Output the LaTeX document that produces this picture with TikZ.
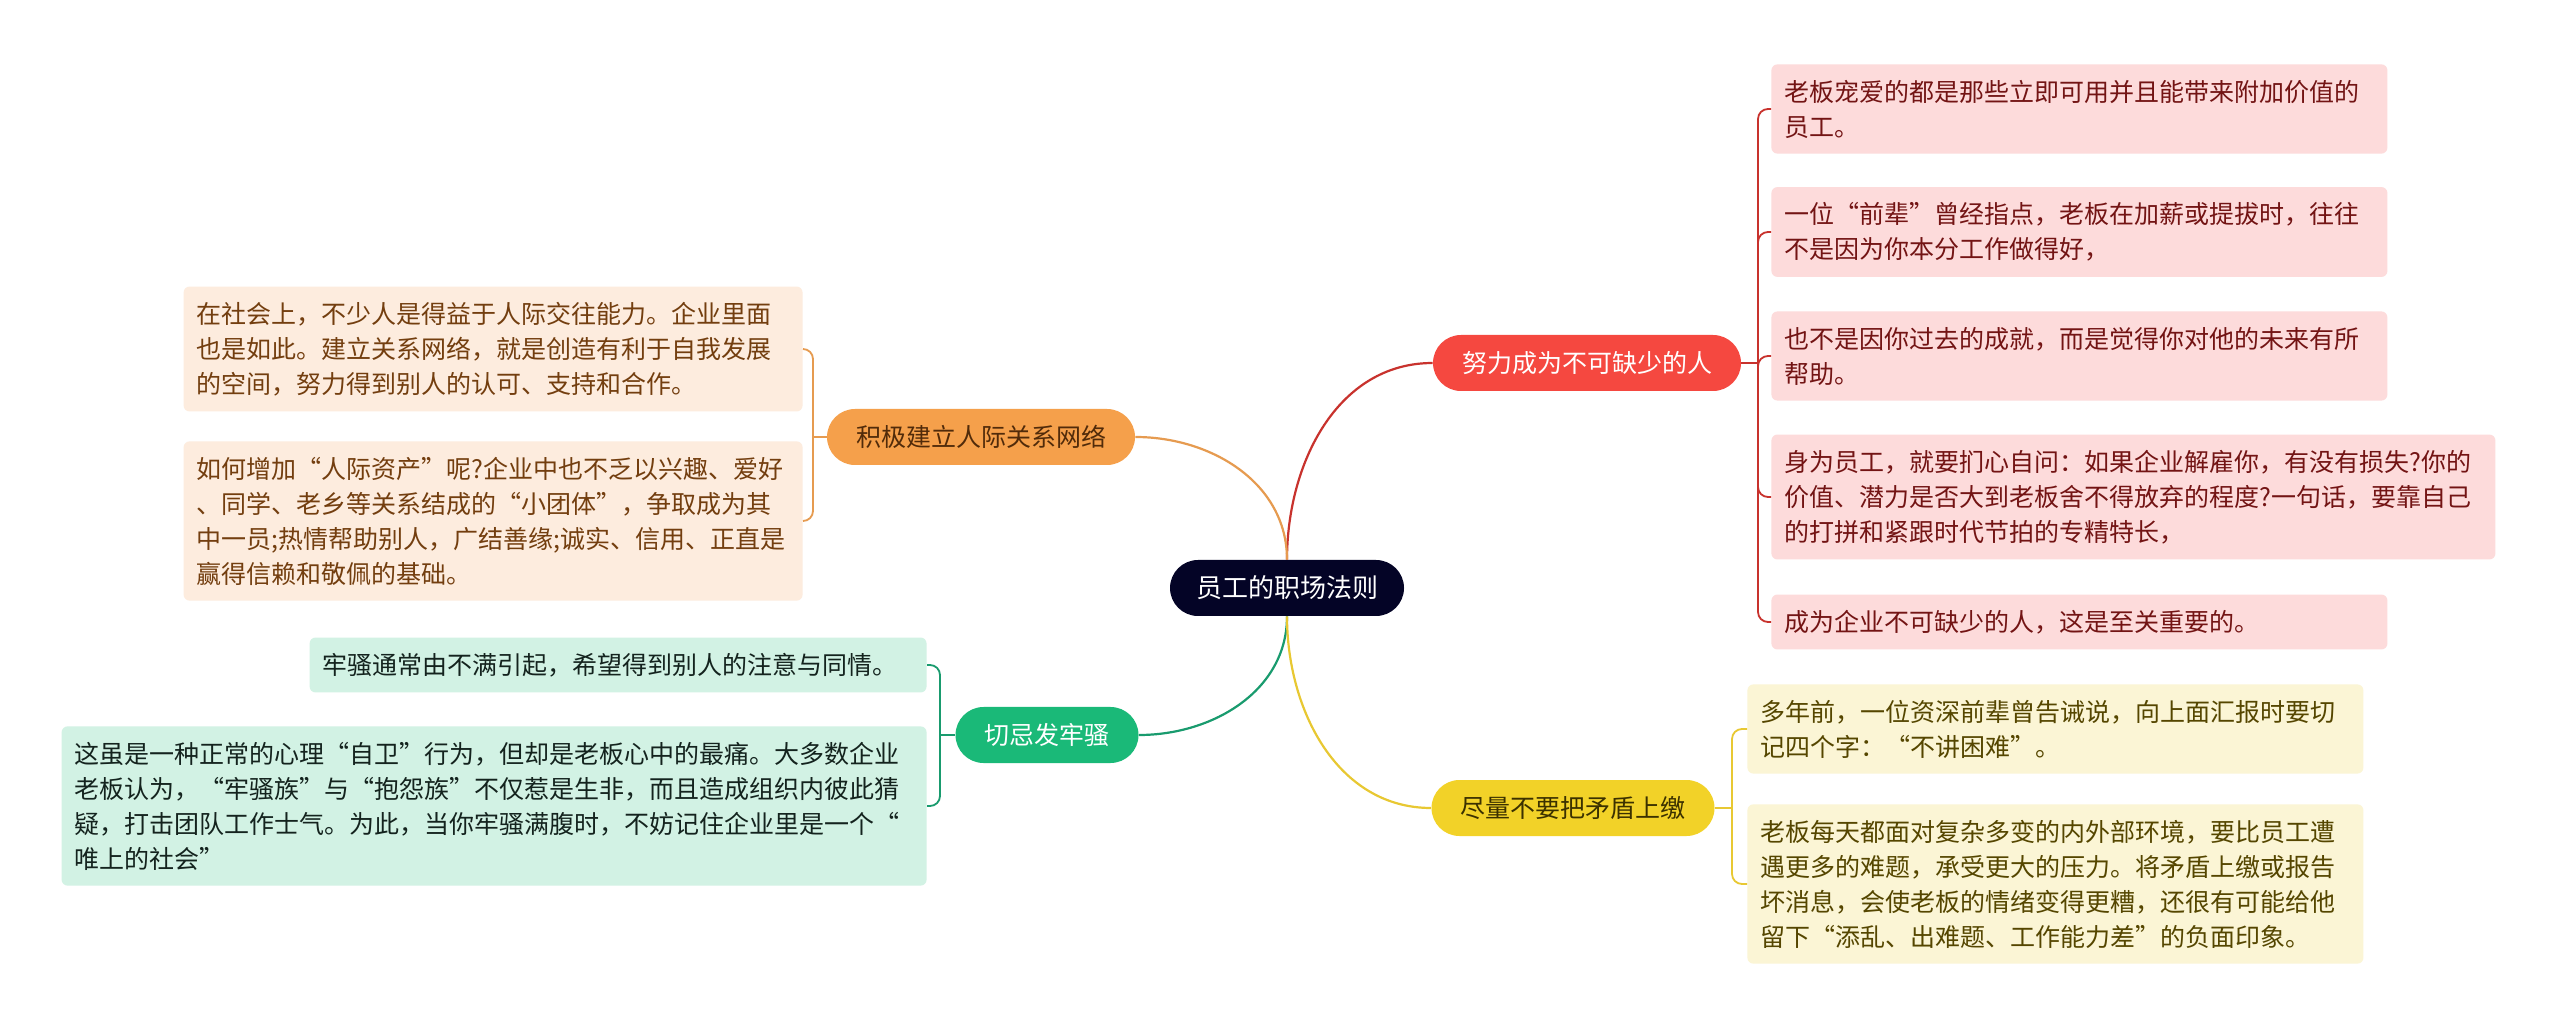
\documentclass[tikz,border=0pt]{standalone}
\usepackage{fontspec}
\setmainfont{Noto Sans CJK SC}
\definecolor{rootNavy}{RGB}{4,4,38}
\definecolor{workRed}{RGB}{245,72,64}
\definecolor{workRedLine}{RGB}{200,50,45}
\definecolor{workRedLeaf}{RGB}{253,219,219}
\definecolor{workRedText}{RGB}{115,20,20}
\definecolor{workOrange}{RGB}{245,160,75}
\definecolor{workOrangeLine}{RGB}{230,155,80}
\definecolor{workOrangeLeaf}{RGB}{253,236,222}
\definecolor{workOrangeText}{RGB}{115,62,15}
\definecolor{workGreen}{RGB}{26,185,120}
\definecolor{workGreenLine}{RGB}{25,155,110}
\definecolor{workGreenLeaf}{RGB}{210,242,228}
\definecolor{workGreenText}{RGB}{20,35,30}
\definecolor{workYellow}{RGB}{242,210,40}
\definecolor{workYellowLine}{RGB}{232,200,50}
\definecolor{workYellowLeaf}{RGB}{251,245,213}
\definecolor{workYellowText}{RGB}{85,70,0}
\usetikzlibrary{arrows.meta}

\tikzset{
  rootbox/.style={fill=rootNavy, text=white, rounded corners=14pt, minimum height=28pt, inner xsep=13pt, font=\fontsize{13pt}{15pt}\selectfont},
  branchbox/.style={rounded corners=14pt, minimum height=28pt, inner xsep=14.5pt, font=\fontsize{12.5pt}{15pt}\selectfont},
  leafbox/.style={rounded corners=3pt, align=left, inner xsep=6.5pt, inner ysep=7.75pt, font=\fontsize{12.5pt}{17.5pt}\selectfont},
  link/.style={line width=1.1pt},
  bracket/.style={line width=0.9pt, rounded corners=5pt}
}

\begin{document}
\begin{tikzpicture}[x=0.5pt, y=-0.5pt]
    \fill[white] (0,0) rectangle (2560,1031);

    % Root and branches
    \node[rootbox] (root) at (1287,588) {员工的职场法则};
    \node[branchbox, fill=workRed, text=white] (red) at (1587,363) {努力成为不可缺少的人};
    \node[branchbox, fill=workOrange, text=workOrangeText!70!black] (orange) at (981,437) {积极建立人际关系网络};
    \node[branchbox, fill=workGreen, text=white] (green) at (1047,735) {切忌发牢骚};
    \node[branchbox, fill=workYellow, text=workYellowText!70!black] (yellow) at (1573,808) {尽量不要把矛盾上缴};

    % Red leaves
    \node[leafbox, fill=workRedLeaf, text=workRedText, text width=295pt, anchor=west] (r1) at (1771,109)
      {老板宠爱的都是那些立即可用并且能带来附加价值的\\员工。};
    \node[leafbox, fill=workRedLeaf, text=workRedText, text width=295pt, anchor=west] (r2) at (1771,232)
      {一位“前辈”曾经指点，老板在加薪或提拔时，往往\\不是因为你本分工作做得好，};
    \node[leafbox, fill=workRedLeaf, text=workRedText, text width=295pt, anchor=west] (r3) at (1771,356)
      {也不是因你过去的成就，而是觉得你对他的未来有所\\帮助。};
    \node[leafbox, fill=workRedLeaf, text=workRedText, text width=349pt, anchor=west] (r4) at (1771,497)
      {身为员工，就要扪心自问：如果企业解雇你，有没有损失?你的\\价值、潜力是否大到老板舍不得放弃的程度?一句话，要靠自己\\的打拼和紧跟时代节拍的专精特长，};
    \node[leafbox, fill=workRedLeaf, text=workRedText, text width=295pt, anchor=west] (r5) at (1771,622)
      {成为企业不可缺少的人，这是至关重要的。};

    % Orange leaves
    \node[leafbox, fill=workOrangeLeaf, text=workOrangeText, text width=296.5pt, anchor=east] (o1) at (803,349)
      {在社会上，不少人是得益于人际交往能力。企业里面\\也是如此。建立关系网络，就是创造有利于自我发展\\的空间，努力得到别人的认可、支持和合作。};
    \node[leafbox, fill=workOrangeLeaf, text=workOrangeText, text width=296.5pt, anchor=east] (o2) at (803,521)
      {如何增加“人际资产”呢?企业中也不乏以兴趣、爱好\\、同学、老乡等关系结成的“小团体”，争取成为其\\中一员;热情帮助别人，广结善缘;诚实、信用、正直是\\赢得信赖和敬佩的基础。};

    % Green leaves
    \node[leafbox, fill=workGreenLeaf, text=workGreenText, text width=295.5pt, anchor=east] (g1) at (927,665)
      {牢骚通常由不满引起，希望得到别人的注意与同情。};
    \node[leafbox, fill=workGreenLeaf, text=workGreenText, text width=419.5pt, anchor=east] (g2) at (927,806)
      {这虽是一种正常的心理“自卫”行为，但却是老板心中的最痛。大多数企业\\老板认为，“牢骚族”与“抱怨族”不仅惹是生非，而且造成组织内彼此猜\\疑，打击团队工作士气。为此，当你牢骚满腹时，不妨记住企业里是一个“\\唯上的社会”};

    % Yellow leaves
    \node[leafbox, fill=workYellowLeaf, text=workYellowText, text width=295pt, anchor=west] (y1) at (1747,729)
      {多年前，一位资深前辈曾告诫说，向上面汇报时要切\\记四个字：“不讲困难”。};
    \node[leafbox, fill=workYellowLeaf, text=workYellowText, text width=295pt, anchor=west] (y2) at (1747,884)
      {老板每天都面对复杂多变的内外部环境，要比员工遭\\遇更多的难题，承受更大的压力。将矛盾上缴或报告\\坏消息，会使老板的情绪变得更糟，还很有可能给他\\留下“添乱、出难题、工作能力差”的负面印象。};

    % Main links
    \draw[link, workRedLine] (root.north) to[out=90, in=180] (red.west);
    \draw[link, workOrangeLine] (root.north) to[out=90, in=0] (orange.east);
    \draw[link, workGreenLine] (root.south) to[out=-90, in=0] (green.east);
    \draw[link, workYellowLine] (root.south) to[out=-90, in=180] (yellow.west);

    % Brackets
    \coordinate (redJ) at (1758,363);
    \coordinate (orangeJ) at (813,437);
    \coordinate (greenJ) at (940,735);
    \coordinate (yellowJ) at (1732,808);
    \draw[bracket, workRedLine] (red.east) -- (redJ);
    \foreach \leafname in {r1,r2,r3,r4,r5}
      \draw[bracket, workRedLine] (redJ) |- (\leafname.west);
    \draw[bracket, workOrangeLine] (orange.west) -- (orangeJ);
    \foreach \leafname in {o1,o2}
      \draw[bracket, workOrangeLine] (orangeJ) |- (\leafname.east);
    \draw[bracket, workGreenLine] (green.west) -- (greenJ);
    \foreach \leafname in {g1,g2}
      \draw[bracket, workGreenLine] (greenJ) |- (\leafname.east);
    \draw[bracket, workYellowLine] (yellow.east) -- (yellowJ);
    \foreach \leafname in {y1,y2}
      \draw[bracket, workYellowLine] (yellowJ) |- (\leafname.west);
\end{tikzpicture}
\end{document}
